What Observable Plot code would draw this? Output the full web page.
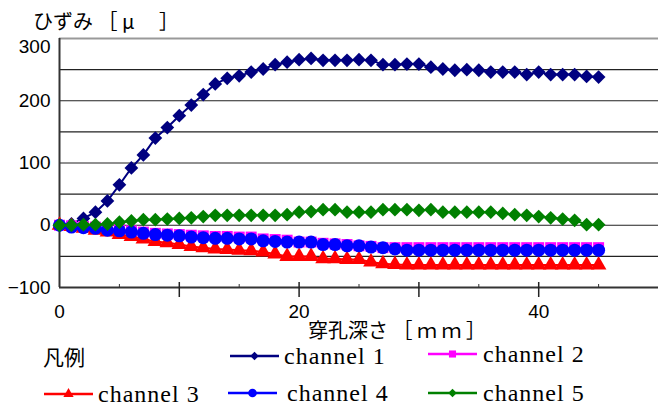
<!DOCTYPE html>
<html><head><meta charset="utf-8">
<script src="https://cdn.jsdelivr.net/npm/d3@7"></script>
<script src="https://cdn.jsdelivr.net/npm/@observablehq/plot@0.6"></script>
<style>
body{margin:0;background:#fff;}
#wrap{position:relative;width:658px;height:407px;overflow:hidden;background:#fff;}
.jp{font-family:"Noto Sans CJK JP",sans-serif;position:absolute;white-space:pre;color:#000;line-height:1;}
.leg{position:absolute;display:flex;align-items:center;white-space:nowrap;font-family:"Liberation Serif","Times New Roman",serif;font-size:24px;letter-spacing:1px;color:#000;line-height:1;}
.leg svg{display:block;}
</style></head>
<body><div id="wrap"></div>
<script>
const depth = [0,1,2,3,4,5,6,7,8,9,10,11,12,13,14,15,16,17,18,19,20,21,22,23,24,25,26,27,28,29,30,31,32,33,34,35,36,37,38,39,40,41,42,43,44,45];
const channel1 = [0,2,11,21,39,65,92,113,140,157,176,193,210,227,236,240,246,251,258,262,266,268,265,265,265,266,265,258,258,259,259,254,251,249,250,249,246,246,246,242,246,242,242,242,239,238];
const channel2 = [0,-1,-2,-3,-5,-7,-9,-11,-13,-14,-15,-16,-17,-18,-18,-19,-19,-22,-23,-24,-27,-27,-29,-30,-31,-33,-34,-36,-36,-36,-36,-36,-36,-36,-36,-36,-36,-36,-36,-36,-36,-36,-36,-36,-36,-36];
const channel3 = [0,-2,-5,-8,-11,-15,-18,-22,-26,-28,-31,-34,-36,-38,-39,-40,-41,-43,-46,-50,-50,-50,-54,-54,-55,-55,-59,-62,-63,-64,-64,-64,-64,-64,-64,-64,-64,-64,-64,-64,-64,-64,-64,-64,-64,-64];
const channel4 = [0,-3,-4,-5,-8,-9,-11,-13,-15,-16,-17,-19,-20,-21,-21,-22,-22,-25,-26,-27,-27,-27,-31,-31,-33,-33,-35,-36,-38,-40,-40,-40,-40,-40,-40,-40,-40,-40,-40,-40,-40,-40,-40,-40,-40,-40];
const channel5 = [0,0,1,1,2,5,7,9,9,10,11,12,14,16,16,16,16,16,16,17,21,22,25,25,21,21,21,25,25,25,24,25,21,21,21,21,21,19,17,16,14,12,10,8,1,1];

const seriesNames = ["channel 1","channel 2","channel 3","channel 4","channel 5"];
const seriesValues = [channel1, channel2, channel3, channel4, channel5];
const seriesColors = ["#000080","#ff00ff","#ff0000","#0000ff","#008000"];
const seriesSymbols = ["diamond2","square","triangle","circle","diamond2"];
const seriesR = [6.2, 6.2, 5.8, 6.5, 6.2];

const yTickValues = [-100,0,100,200];
const yTopTick = [300];
const gridValues = [-50,0,50,100,150,200,250];
const gridTop = [300];
const xLabelTicks = [0,20,40];
const xMajorTicks = [10,20,30,40];
const xMinorTicks = [5,15,25,35,45];

const yTitle = "ひずみ ［ μ 　］";
const xTitle = "穿孔深さ ［ ｍ ｍ ］";
const legendTitle = "凡例";

const rows = [];
seriesNames.forEach((name, i) => {
  depth.forEach((d, j) => rows.push({series: name, depth: d, value: seriesValues[i][j]}));
});

const marks = [
  Plot.gridY({ticks: gridValues, stroke: "#222", strokeOpacity: 1, strokeWidth: 1.2}),
  Plot.gridY({ticks: gridTop, stroke: "#999", strokeOpacity: 1, strokeWidth: 2}),
  Plot.ruleX([0], {stroke: "#333", strokeWidth: 2}),
  Plot.ruleY([-100], {stroke: "#333", strokeWidth: 2}),
  Plot.axisY({ticks: yTickValues, tickSize: 0, tickPadding: 9, fontSize: 19, label: null}),
  Plot.text(yTopTick, {y: d => d, frameAnchor: "left", dx: -9, dy: 8, textAnchor: "end", fontSize: 19}),
  Plot.axisX({ticks: xMajorTicks, tickSize: 15, dy: -5, fill: "none", stroke: "#222", strokeWidth: 1.5, label: null}),
  Plot.axisX({ticks: xMinorTicks, tickSize: 3, dy: -3, fill: "none", stroke: "#333", label: null}),
  Plot.axisX({ticks: xLabelTicks, tickSize: 0, tickPadding: 17, fontSize: 19, label: null})
];
seriesNames.forEach((name, i) => {
  const d = rows.filter(r => r.series === name);
  marks.push(Plot.line(d, {x: "depth", y: "value", stroke: seriesColors[i], strokeWidth: 2}));
  marks.push(Plot.dot(d, {x: "depth", y: "value", fill: seriesColors[i], stroke: "none", symbol: seriesSymbols[i], r: seriesR[i]}));
});

const chart = Plot.plot({
  width: 658, height: 345,
  marginLeft: 59, marginRight: 0, marginTop: 38, marginBottom: 58,
  x: {domain: [0, 50]},
  y: {domain: [-100, 300]},
  style: {fontFamily: "'Liberation Sans', Arial, sans-serif", fontSize: "19px", background: "white", color: "#000"},
  marks
});

const wrap = document.getElementById("wrap");
wrap.appendChild(chart);
chart.style.position = "absolute";
chart.style.left = "0px";
chart.style.top = "0px";

function addText(cls, txt, left, top, size) {
  const el = document.createElement("div");
  el.className = cls;
  el.textContent = txt;
  el.style.left = left + "px";
  el.style.top = top + "px";
  el.style.fontSize = size + "px";
  wrap.appendChild(el);
  return el;
}
addText("jp", yTitle, 33, 11, 20);
addText("jp", xTitle, 308, 320, 20);
addText("jp", legendTitle, 43, 346, 21);

const legendLayout = [
  {left: 230, cy: 356, gap: 5},
  {left: 428, cy: 354, gap: 6},
  {left: 44, cy: 394, gap: 5},
  {left: 228, cy: 393, gap: 10},
  {left: 428, cy: 393, gap: 6}
];
const legendR = [3.8, 4, 3.8, 4.3, 3.8];
seriesNames.forEach((name, i) => {
  const L = legendLayout[i];
  const div = document.createElement("div");
  div.className = "leg";
  div.style.left = L.left + "px";
  div.style.top = (L.cy - 12) + "px";
  div.style.height = "24px";
  const svg = d3.create("svg").attr("width", 49).attr("height", 16);
  svg.append("line").attr("x1", 0).attr("x2", 49).attr("y1", 8).attr("y2", 8)
    .attr("stroke", seriesColors[i]).attr("stroke-width", 2.5);
  const symMap = {diamond2: d3.symbolDiamond2, square: d3.symbolSquare, triangle: d3.symbolTriangle, circle: d3.symbolCircle};
  svg.append("path").attr("transform", "translate(24.5,8)")
    .attr("d", d3.symbol(symMap[seriesSymbols[i]], Math.PI * legendR[i] * legendR[i])())
    .attr("fill", seriesColors[i]);
  div.appendChild(svg.node());
  const span = document.createElement("span");
  span.textContent = name;
  span.style.marginLeft = L.gap + "px";
  div.appendChild(span);
  wrap.appendChild(div);
});
</script>
</body></html>
